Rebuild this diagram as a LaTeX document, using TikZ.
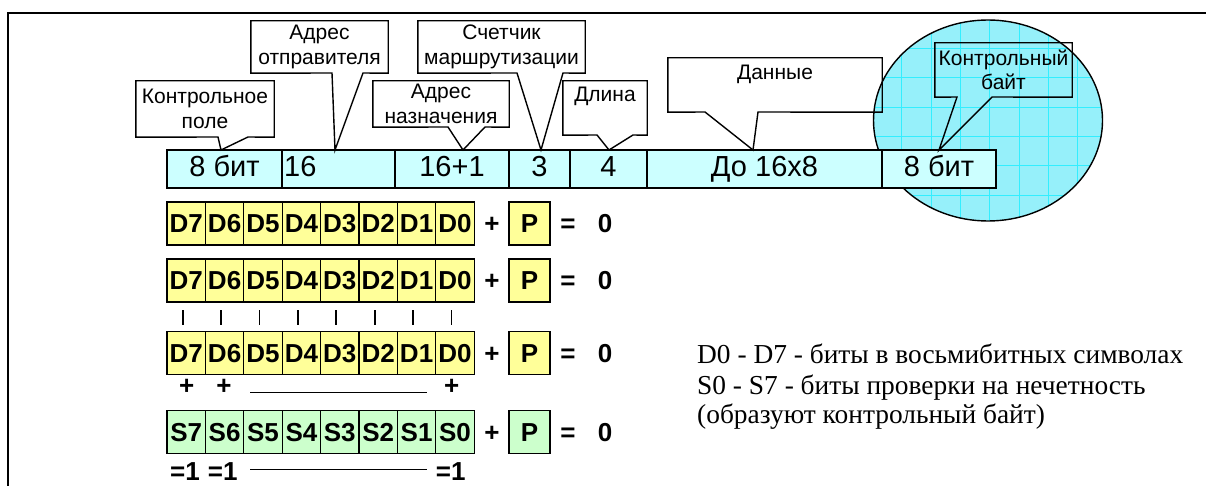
\documentclass[tikz,border=0pt]{standalone}
\usepackage{fontspec}
\setmainfont{Liberation Sans}
\newfontfamily\legfont{Liberation Serif}
\definecolor{cellcyan}{RGB}{204,255,255}
\definecolor{bityellow}{RGB}{255,255,153}
\definecolor{bitgreen}{RGB}{204,255,204}
\definecolor{ovalfill}{RGB}{150,240,250}
\definecolor{ovalgrid}{RGB}{50,238,255}
\begin{document}
\begin{tikzpicture}[x=1pt,y=-1pt,
  frameline/.style={line width=2pt},
  fieldcell/.style={draw, line width=1.4pt, fill=cellcyan, inner sep=0pt,
    minimum height=38pt, text height=21pt, text depth=5pt,
    font=\fontsize{29}{31}\selectfont},
  cbox/.style={rectangle, inner sep=0pt, align=center,
    font=\fontsize{21}{24.5}\selectfont},
  ctext/.style={inner sep=0pt, font=\fontsize{21}{24.5}\selectfont},
  cline/.style={draw, line width=1.4pt, line join=miter},
  bitcell/.style={draw, line width=1.2pt, inner sep=0pt, minimum width=38.4pt,
    minimum height=43pt, text height=18.6pt, text depth=0pt,
    font=\fontsize{26}{28}\selectfont\bfseries},
  opsign/.style={inner sep=0pt, font=\fontsize{26}{28}\selectfont\bfseries},
  legline/.style={inner sep=0pt, anchor=base west, font=\fontsize{27.4}{30}\selectfont\legfont},
]
\useasboundingbox (0,0) rectangle (1206,486);

% outer frame (open to the right and bottom)
\draw[frameline] (8,500) -- (8,13) -- (1220,13);

% highlighted oval behind the check byte
\begin{scope}
  \clip (988,120.5) ellipse [x radius=114.5pt, y radius=100.5pt];
  \fill[ovalfill] (870,15) rectangle (1106,226);
  \foreach \gx in {872.5,901.8,931.1,960.4,989.7,1019,1048.3,1077.6}
    \draw[ovalgrid, line width=0.7pt] (\gx,15) -- (\gx,226);
  \foreach \gy in {19.1,48.4,77.7,107.0,136.3,165.6,194.9,224.2}
    \draw[ovalgrid, line width=0.7pt] (870,\gy) -- (1106,\gy);
\end{scope}
\draw[line width=1.4pt] (988,120.5) ellipse [x radius=114.5pt, y radius=100.5pt];

% packet fields
\node[fieldcell, minimum width=115pt] (f1) at (224.5,169) {8 бит};
\node[fieldcell, minimum width=113pt] (f2) at (338.5,169) {};
\node[anchor=base west, inner sep=0pt, font=\fontsize{29}{31}\selectfont] at (284,177) {16};
\node[fieldcell, minimum width=114pt] (f3) at (452,169) {16+1};
\node[fieldcell, minimum width=61pt] (f4) at (539.5,169) {3};
\node[fieldcell, minimum width=77pt] (f5) at (608.5,169) {4};
\node[fieldcell, minimum width=235pt] (f6) at (764.5,169) {До 16x8};
\node[fieldcell, minimum width=114pt] (f7) at (939,169) {8 бит};

% callout tips on the field row
\coordinate (t1) at (221,150);
\coordinate (t2) at (335,150);
\coordinate (t3) at (463,150);
\coordinate (t4) at (541,150);
\coordinate (t5) at (609,150);
\coordinate (t6) at (753,150);
\coordinate (t7) at (939,150);

% callouts
\node[cbox, minimum width=138pt, minimum height=56pt] (k1) at (205,109) {Контрольное\\поле};
\draw[cline] (k1.north west) -| (k1.south east) -- (248,137) -- (t1) -- (218,137) -- (k1.south west) -- cycle;

\node[cbox, minimum width=137pt, minimum height=52pt] (k2) at (319.5,47) {Адрес\\отправителя};
\draw[cline] (k2.north west) -| (k2.south east) -- (363,73) -- (t2) -- (332,73) -- (k2.south west) -- cycle;

\node[cbox, minimum width=136pt, minimum height=46pt] (k3) at (441,104) {Адрес\\назначения};
\draw[cline] (k3.north west) -| (k3.south east) -- (485,127) -- (t3) -- (448,127) -- (k3.south west) -- cycle;

\node[cbox, minimum width=167pt, minimum height=52pt] (k4) at (501.5,47) {Счетчик\\маршрутизации};
\draw[cline] (k4.north west) -| (k4.south east) -- (563,73) -- (t4) -- (517,73) -- (k4.south west) -- cycle;

\node[cbox, minimum width=84pt, minimum height=54pt] (k5) at (605,108) {};
\node[ctext] at (605,96) {Длина};
\draw[cline] (k5.north west) -| (k5.south east) -- (633,135) -- (t5) -- (597,135) -- (k5.south west) -- cycle;

\node[cbox, minimum width=214pt, minimum height=54pt] (k6) at (775,85) {};
\node[ctext] at (775,74) {Данные};
\draw[cline] (k6.north west) -| (k6.south east) -- (758,112) -- (t6) -- (705,112) -- (k6.south west) -- cycle;

\node[cbox, minimum width=137pt, minimum height=54pt] (k7) at (1003.5,70) {Контрольный\\байт};
\draw[cline] (k7.north west) -| (k7.south east) -- (992,97) -- (t7) -- (957,97) -- (k7.south west) -- cycle;

% parity rows
\foreach \row/\yc/\lt/\col in {1/223.5/D/bityellow, 2/280.5/D/bityellow, 3/353/D/bityellow, 4/432/S/bitgreen} {
  \foreach \b [count=\k from 0] in {7,6,5,4,3,2,1,0}
    \node[bitcell, fill=\col] (r\row b\b) at ({186.2+38.4*\k},\yc) {\lt\b};
  \node[opsign, anchor=base] (r\row plus) at (492,{\yc+9.3}) {+};
  \node[bitcell, fill=\col, minimum width=41pt] (r\row p) at (529.5,\yc) {P};
  \node[opsign, anchor=base] (r\row eq) at (568,{\yc+9.3}) {=};
  \node[opsign, anchor=base] (r\row z) at (605,{\yc+9.3}) {0};
}

% column ticks between the rows
\foreach \b in {7,6,5,4,3,2,1,0}
  \draw[line width=1.8pt] ([xshift=-3.5pt]r2b\b.center |- 0,310) -- ([xshift=-3.5pt]r2b\b.center |- 0,325);

% sums below the third row
\node[opsign] (s7) at (186.7,387) {+};
\node[opsign] (s6) at (224,387) {+};
\node[opsign] (s0) at (451.7,387) {+};
\draw[line width=1.3pt] (250,392.3) -- (426.7,392.3);

% results below the check row
\node[opsign] (e7) at (185,472) {=1};
\node[opsign] (e6) at (222.7,472) {=1};
\node[opsign] (e0) at (450.7,472) {=1};
\draw[line width=1.3pt] (250,469.3) -- (426.7,469.3);

% legend
\node[legline] (lg1) at (697,363) {D0 - D7 - биты в восьмибитных символах};
\node[legline] (lg2) at (697,394) {S0 - S7 - биты проверки на нечетность};
\node[legline] (lg3) at (697,423) {(образуют контрольный байт)};
\end{tikzpicture}
\end{document}
